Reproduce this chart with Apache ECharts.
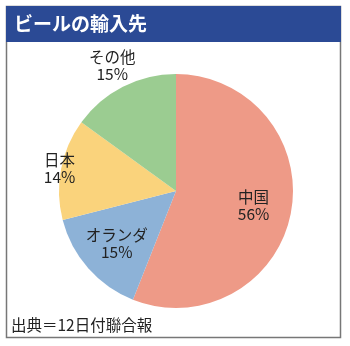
<!DOCTYPE html>
<html>
<head>
<meta charset="utf-8">
<script src="https://cdn.jsdelivr.net/npm/echarts@6/dist/echarts.min.js"></script>
<style>html,body{margin:0;padding:0;background:#fff;}#c{width:350px;height:346px;}</style>
</head>
<body>
<div id="c"></div>
<script>
const titleText = 'ビールの輸入先';
const sourceText = '出典＝12日付聯合報';
const categories = ['中国', 'オランダ', '日本', 'その他'];
const shares = [56, 15, 14, 15];
const colors = ['#EE9A87', '#8DB2D7', '#FAD37C', '#9BCC91'];

const FONT = '"Noto Sans CJK JP", "Noto Sans", sans-serif';
const center = [176, 191];
const R = 117;

const pieData = categories.map((c, i) => ({ name: c, value: shares[i], itemStyle: { color: colors[i] } }));

function labelSeries(names, radius) {
  return {
    type: 'pie',
    silent: true,
    center: center,
    radius: [0, radius],
    startAngle: 90,
    clockwise: true,
    z: 5,
    itemStyle: { color: 'rgba(0,0,0,0)', borderWidth: 0 },
    emphasis: { disabled: true },
    labelLine: { show: false },
    data: categories.map((c, i) => ({
      name: c,
      value: shares[i],
      label: { show: names.indexOf(c) >= 0 }
    })),
    label: {
      position: 'inside',
      formatter: p => p.name + '\n' + p.value + '%',
      fontFamily: FONT,
      fontSize: 15.5,
      lineHeight: 17,
      color: '#222',
      align: 'center'
    }
  };
}

const chart = echarts.init(document.getElementById('c'), null, { renderer: 'canvas' });
chart.setOption({
  animation: false,
  graphic: [
    { type: 'rect', z: 0, shape: { x: 6.5, y: 6.5, width: 334, height: 331 }, style: { fill: '#fff', stroke: '#777', lineWidth: 1.5 } },
    { type: 'rect', z: 1, shape: { x: 6, y: 6, width: 335, height: 36 }, style: { fill: '#2B4A95' } },
    { type: 'text', z: 2, x: 14, y: 24, style: { text: titleText, fill: '#fff', font: 'bold 19px ' + FONT, textVerticalAlign: 'middle' } },
    { type: 'text', z: 2, x: 11, y: 325, style: { text: sourceText, fill: '#222', font: '15.5px ' + FONT, textVerticalAlign: 'middle' } }
  ],
  series: [
    {
      type: 'pie',
      center: center,
      radius: [0, R],
      startAngle: 90,
      clockwise: true,
      silent: true,
      label: { show: false },
      labelLine: { show: false },
      itemStyle: { borderWidth: 0 },
      data: pieData
    },
    labelSeries(['中国', 'オランダ'], 152),
    labelSeries(['日本'], 231),
    labelSeries(['その他'], 275)
  ]
});
</script>
</body>
</html>
